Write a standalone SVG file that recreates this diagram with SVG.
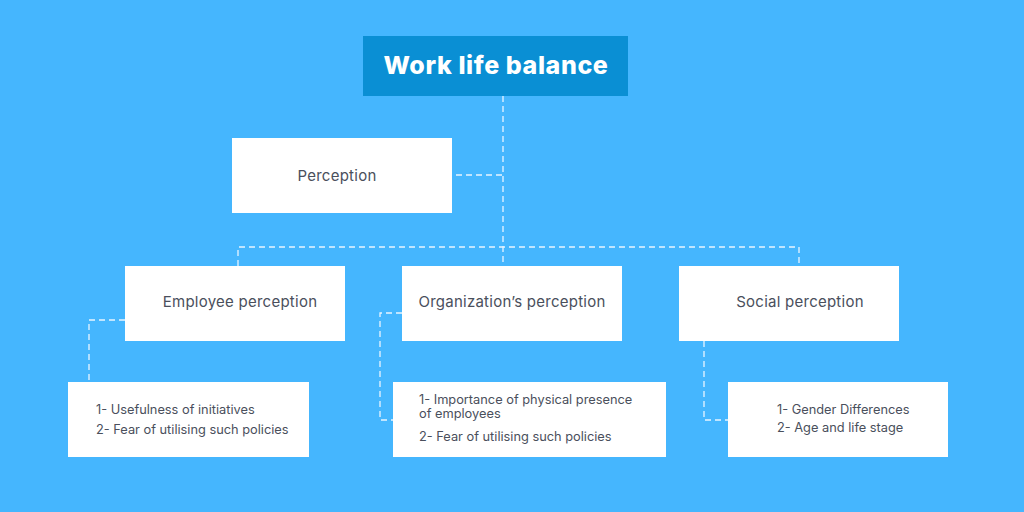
<svg xmlns="http://www.w3.org/2000/svg" width="1024" height="512" viewBox="0 0 1024 512">
<style>
.box{fill:#ffffff}
.lbl{font-family:Inter,"Open Sans","Liberation Sans",sans-serif;font-size:15px;letter-spacing:0.25px;fill:#4a4f5c}
.sub{font-family:Inter,"Open Sans","Liberation Sans",sans-serif;font-size:12.8px;fill:#4a4f5c}
.title{font-family:Inter,"Open Sans","Liberation Sans",sans-serif;font-size:25px;font-weight:800;letter-spacing:0.6px;fill:#ffffff}
.con{fill:none;stroke:#e8f5ff;stroke-width:1.3;stroke-dasharray:6 4}
</style>
<rect width="1024" height="512" fill="#45b6fe"/>
<g id="connectors">
<path class="con" d="M503 96 V266"/>
<path class="con" d="M456 175 H503"/>
<path class="con" d="M238 266 V247 H799 V266"/>
<path class="con" d="M125 320 H89 V382"/>
<path class="con" d="M402 313 H380 V420 H393"/>
<path class="con" d="M704 341 V420 H728"/>
</g>
<g id="title">
<rect x="363" y="36" width="265" height="60" fill="#0a8fd4"/>
<text class="title" x="496" y="74" text-anchor="middle">Work life balance</text>
</g>
<g id="perception">
<rect class="box" x="232" y="138" width="220" height="75"/>
<text class="lbl" x="337" y="181" text-anchor="middle">Perception</text>
</g>
<g id="employee">
<rect class="box" x="125" y="266" width="220" height="75"/>
<text class="lbl" x="240" y="307" text-anchor="middle">Employee perception</text>
</g>
<g id="organization">
<rect class="box" x="402" y="266" width="220" height="75"/>
<text class="lbl" x="512" y="307" text-anchor="middle">Organization’s perception</text>
</g>
<g id="social">
<rect class="box" x="679" y="266" width="220" height="75"/>
<text class="lbl" x="800" y="307" text-anchor="middle">Social perception</text>
</g>
<g id="employee-items">
<rect class="box" x="68" y="382" width="241" height="75"/>
<text class="sub" x="96" y="414">1- Usefulness of initiatives</text>
<text class="sub" x="96" y="434">2- Fear of utilising such policies</text>
</g>
<g id="organization-items">
<rect class="box" x="393" y="382" width="273" height="75"/>
<text class="sub" x="419" y="404">1- Importance of physical presence</text>
<text class="sub" x="419" y="418">of employees</text>
<text class="sub" x="419" y="441">2- Fear of utilising such policies</text>
</g>
<g id="social-items">
<rect class="box" x="728" y="382" width="220" height="75"/>
<text class="sub" x="777" y="414">1- Gender Differences</text>
<text class="sub" x="777" y="432">2- Age and life stage</text>
</g>
</svg>
